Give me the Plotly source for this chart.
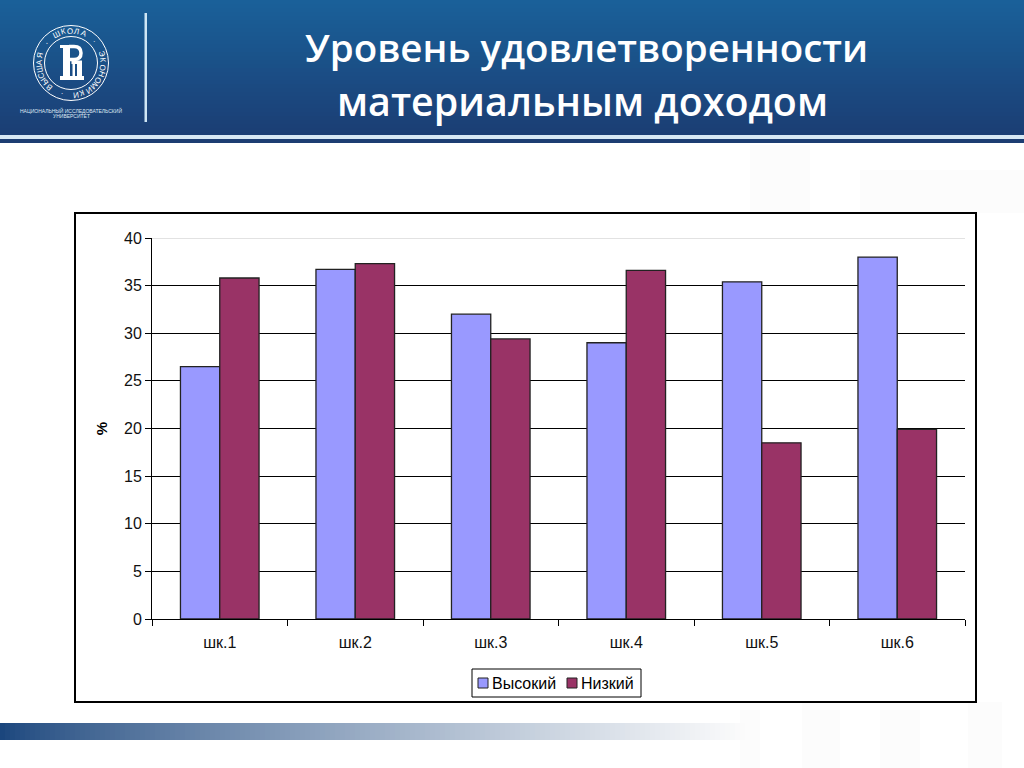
import math
import plotly.graph_objects as go

categories = ["шк.1", "шк.2", "шк.3", "шк.4", "шк.5", "шк.6"]
series_names = ["Высокий", "Низкий"]
high_values = [26.5, 36.7, 32.0, 29.0, 35.4, 38.0]
low_values = [35.8, 37.3, 29.4, 36.6, 18.5, 19.9]
y_ticks = [0, 5, 10, 15, 20, 25, 30, 35, 40]
title_lines = ["Уровень удовлетворенности", "материальным доходом"]
logo_ring = "ВЫСШАЯ · ШКОЛА · ЭКОНОМИКИ · "

W, H = 1024, 768
L, R, T, B = 152, 965, 238, 619
HIGH_COLOR, LOW_COLOR = "#9999ff", "#993366"


def px(x):
    return (x - L) / (R - L)


def py(y):
    return (B - y) / (B - T)


def mix(a, b, t):
    return "rgb(%d,%d,%d)" % tuple(round(a[i] + (b[i] - a[i]) * t) for i in range(3))


def rect(x0, y0, x1, y1, fill, line=None, lw=0, layer="below"):
    return dict(type="rect", xref="paper", yref="paper", x0=px(x0), x1=px(x1), y0=py(y0), y1=py(y1),
                fillcolor=fill, line=dict(color=line or "rgba(0,0,0,0)", width=lw), layer=layer)


def label(text, x, y, size, color, family="Liberation Sans", weight="normal", angle=0, anchor="center"):
    return dict(text=text, x=px(x), y=py(y), xref="paper", yref="paper", showarrow=False,
                xanchor=anchor, yanchor="middle", textangle=angle, borderpad=0, borderwidth=0,
                font=dict(family=family, size=size, color=color, weight=weight))


shapes = []
# faint watermark blocks
for r in [(750, 145, 810, 213), (860, 170, 1024, 213), (802, 702, 840, 768),
          (880, 702, 920, 768), (968, 702, 1002, 768), (740, 702, 760, 768)]:
    shapes.append(rect(*r, "#fcfcfc"))
# header gradient
steps = 34
for i in range(steps):
    t = i / (steps - 1)
    shapes.append(rect(0, i * 4, W, (i + 1) * 4 + 0.5, mix((26, 96, 153), (27, 62, 116), t)))
shapes.append(rect(0, 135, W, 139, "#d7e8f4"))
shapes.append(rect(0, 139, W, 143, "#1c3d72"))
# footer gradient strip
n = 150
for i in range(n):
    t = i / (n - 1)
    shapes.append(rect(i * 5, 723, (i + 1) * 5 + 0.5, 740, mix((27, 70, 125), (252, 252, 252), t ** 0.8)))
# logo
shapes.append(rect(144.5, 13, 147, 122, "#cfe6f5"))
cx, cy = 71, 63
for rad, w in [(37.5, 1), (26.5, 1)]:
    shapes.append(dict(type="circle", xref="paper", yref="paper", x0=px(cx - rad), x1=px(cx + rad),
                       y0=py(cy + rad), y1=py(cy - rad), line=dict(color="white", width=w), layer="below"))
for r in [(60, 45, 75, 48), (63, 45, 70, 78), (60, 76, 84, 80),
          (71.5, 60.5, 82, 64), (72.5, 61, 75, 78), (77, 61, 82, 78)]:
    shapes.append(rect(*r, "white"))
shapes.append(dict(type="path", xref="paper", yref="paper", layer="below", fillcolor="rgba(0,0,0,0)",
                   line=dict(color="white", width=3.5),
                   path=(f"M {px(69)} {py(46.5)} L {px(74)} {py(46.5)} "
                         f"Q {px(81)} {py(46.5)} {px(81)} {py(53)} "
                         f"Q {px(81)} {py(59.5)} {px(74)} {py(59.5)} L {px(69)} {py(59.5)}")))
# chart box
shapes.append(rect(75, 213, 976, 702, "white", "black", 2))
# light top grid line
shapes.append(dict(type="line", xref="x domain", yref="y", x0=0, x1=1, y0=40, y1=40,
                   line=dict(color="#d9d9d9", width=1.5), layer="above"))
# legend box
shapes.append(rect(472, 669, 641, 697, "white", "black", 1))
shapes.append(rect(478, 678, 488, 688, HIGH_COLOR, "#222222", 1))
shapes.append(rect(567, 678, 577, 688, LOW_COLOR, "#222222", 1))

fig = go.Figure()
fig.add_bar(name=series_names[0], x=categories, y=high_values,
            marker=dict(color=HIGH_COLOR, line=dict(color="#222222", width=1.3)))
fig.add_bar(name=series_names[1], x=categories, y=low_values,
            marker=dict(color=LOW_COLOR, line=dict(color="#222222", width=1.3)))

annotations = [
    label(title_lines[0], 586, 47, 38.5, "white", "Open Sans", 600),
    label(title_lines[1], 582, 101, 39.4, "white", "Open Sans", 600),
    label("НАЦИОНАЛЬНЫЙ ИССЛЕДОВАТЕЛЬСКИЙ", 71, 110, 5, "#dfe8f2"),
    label("УНИВЕРСИТЕТ", 71, 116, 5, "#dfe8f2"),
    label(series_names[0], 492, 683, 16, "black", anchor="left"),
    label(series_names[1], 581, 683, 16, "black", anchor="left"),
]
N = len(logo_ring)
for i, ch in enumerate(logo_ring):
    a = 2 * math.pi * i / N + 2.3
    annotations.append(label(ch, cx + 32 * math.cos(a), cy + 32 * math.sin(a), 8, "white",
                             angle=math.degrees(a) + 90))

fig.update_layout(
    width=W, height=H, autosize=False, showlegend=False,
    margin=dict(l=L, r=W - R, t=T, b=H - B),
    paper_bgcolor="white", plot_bgcolor="rgba(0,0,0,0)",
    barmode="group", bargap=0.42, bargroupgap=0,
    font=dict(family="Liberation Sans", size=16, color="black"),
    shapes=shapes, annotations=annotations,
    xaxis=dict(tickson="boundaries", ticks="outside", ticklen=6, tickcolor="black", showline=True, linecolor="black",
               linewidth=1, ticklabelstandoff=9, tickfont=dict(size=16, color="#111111")),
    yaxis=dict(range=[0, 40], tickvals=y_ticks, ticks="outside", ticklen=6, tickcolor="black", showline=True,
               linecolor="black", linewidth=1, gridcolor="black", gridwidth=1, zeroline=False,
               title=dict(text="<b>%</b>", font=dict(size=15), standoff=12), tickfont=dict(size=16, color="#111111")),
)

fig.write_html("out.html", config=dict(displayModeBar=False),
               post_script="document.body.style.margin='0';document.body.style.overflow='hidden';")
